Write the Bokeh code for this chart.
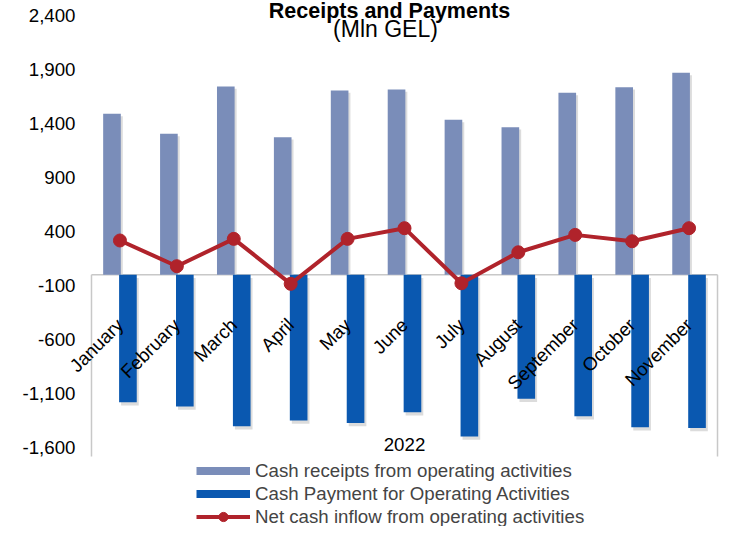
import math
from bokeh.plotting import figure
from bokeh.models import (ColumnDataSource, Range1d, FixedTicker,
                          NumeralTickFormatter, Label, Legend, LegendItem)
from bokeh.transform import dodge
from bokeh.core.properties import value
from bokeh.embed import file_html
from bokeh.resources import INLINE

# ---- data ----
months = ["January", "February", "March", "April", "May", "June",
          "July", "August", "September", "October", "November"]
receipts = [1490, 1305, 1743, 1273, 1706, 1715, 1434, 1366, 1684, 1736, 1869]
payments = [-1181, -1220, -1403, -1350, -1372, -1273, -1498, -1149, -1310, -1412, -1418]
net_inflow = [317, 79, 332, -84, 332, 431, -79, 208, 369, 310, 431]
y_ticks = [-1600, -1100, -600, -100, 400, 900, 1400, 1900, 2400]
year_label = "2022"
title_text = "Receipts and Payments"
subtitle_text = "(Mln GEL)"
name_receipts = "Cash receipts from operating activities"
name_payments = "Cash Payment for Operating Activities"
name_net = "Net cash inflow from operating activities"

# ---- styles / layout ----
FONT = "Liberation Sans"
C_REC = "#7A8DB9"
C_PAY = "#0A58B0"
C_NET = "#B0232B"
C_SHADOW = "#dcdcdc"
C_AXIS = "#c8c8c8"
Y_MIN, Y_MAX = -2331, 2539
X_MIN, X_MAX = -2.099, 10.535
BOX_BOTTOM = -1683
NAN = float("nan")

pos = list(range(len(months)))
left_edge = pos[0] - 0.5
right_edge = pos[-1] + 0.5

src = ColumnDataSource(dict(x=pos, receipts=receipts, payments=payments,
                            net=net_inflow,
                            rec_sh=[v - 22 for v in receipts],
                            pay_sh=[v - 30 for v in payments]))

p = figure(width=719, height=526, x_range=Range1d(X_MIN, X_MAX),
           y_range=Range1d(Y_MIN, Y_MAX), output_backend="svg", toolbar_location=None,
           min_border_left=0, min_border_right=0, min_border_top=0, min_border_bottom=0)
p.outline_line_color = None
p.xgrid.visible = False
p.ygrid.visible = False

xa = p.xaxis[0]
xa.fixed_location = 0
xa.ticker = FixedTicker(ticks=pos)
xa.major_label_overrides = {i: m for i, m in zip(pos, months)}
xa.axis_line_color = None
xa.major_tick_line_color = None
xa.minor_tick_line_color = None
xa.major_tick_out = 0
xa.major_tick_in = 0
xa.major_label_orientation = math.pi / 4
xa.major_label_standoff = 47
xa.major_label_text_font = FONT
xa.major_label_text_font_size = "18.7px"
xa.major_label_text_color = "black"

ya = p.yaxis[0]
ya.fixed_location = left_edge
ya.ticker = FixedTicker(ticks=y_ticks)
ya.formatter = NumeralTickFormatter(format="0,0")
ya.axis_line_color = None
ya.major_tick_line_color = None
ya.minor_tick_line_color = None
ya.major_tick_out = 0
ya.major_tick_in = 0
ya.major_label_standoff = 16
ya.major_label_text_font = FONT
ya.major_label_text_font_size = "18.7px"
ya.major_label_text_color = "black"

# category axis line and group box side lines
p.segment(x0=[left_edge], x1=[right_edge], y0=[0], y1=[0],
          line_color=C_AXIS, line_width=1.5)
p.segment(x0=[left_edge, right_edge], x1=[left_edge, right_edge], y0=[0, 0],
          y1=[BOX_BOTTOM, BOX_BOTTOM], line_color=C_AXIS, line_width=1.5)

# shadows
p.vbar(x=dodge("x", -0.14 + 0.035), top="rec_sh", bottom=0,
       width=0.31, source=src, fill_color=C_SHADOW, line_color=None)
p.vbar(x=dodge("x", 0.14 + 0.035), top=-30, bottom="pay_sh",
       width=0.31, source=src, fill_color=C_SHADOW, line_color=None)

r_rec = p.vbar(x=dodge("x", -0.14), top="receipts", bottom=0,
               width=0.31, source=src, fill_color=C_REC, line_color=None)
r_pay = p.vbar(x=dodge("x", 0.14), top=0, bottom="payments",
               width=0.31, source=src, fill_color=C_PAY, line_color=None)
r_line = p.line(x="x", y="net", source=src, line_color=C_NET, line_width=4)
r_pts = p.scatter(x="x", y="net", source=src, marker="circle", size=13,
                  fill_color=C_NET, line_color=C_NET)

# legend keys for the bar series (thin swatches as in the original; draw nothing)
k_rec = p.line(x=[NAN], y=[NAN], line_color=C_REC, line_width=8)
k_pay = p.line(x=[NAN], y=[NAN], line_color=C_PAY, line_width=8)

# group label
p.text(x=[(pos[0] + pos[-1]) / 2], y=[-1572], text=[year_label],
       text_align="center", text_baseline="middle", text_font=value(FONT),
       text_font_size="18.7px", text_color="black")

# titles
p.add_layout(Label(x=389, y=516, x_units="screen", y_units="screen", text=title_text,
                   text_align="center", text_baseline="alphabetic", text_font=FONT,
                   text_font_size="21.5px", text_font_style="bold", text_color="black"))
p.add_layout(Label(x=385, y=498, x_units="screen", y_units="screen", text=subtitle_text,
                   text_align="center", text_baseline="alphabetic", text_font=FONT,
                   text_font_size="23px", text_color="black"))

legend = Legend(items=[LegendItem(label=name_receipts, renderers=[k_rec]),
                       LegendItem(label=name_payments, renderers=[k_pay]),
                       LegendItem(label=name_net, renderers=[r_line, r_pts])],
                location=(196, -2), orientation="vertical", border_line_color=None,
                background_fill_alpha=0, padding=0, margin=0, spacing=0,
                glyph_width=54, glyph_height=23, label_height=23, label_standoff=5,
                label_text_font=FONT, label_text_font_size="18.7px")
p.add_layout(legend)

open("out.html", "w").write(file_html(p, INLINE))
